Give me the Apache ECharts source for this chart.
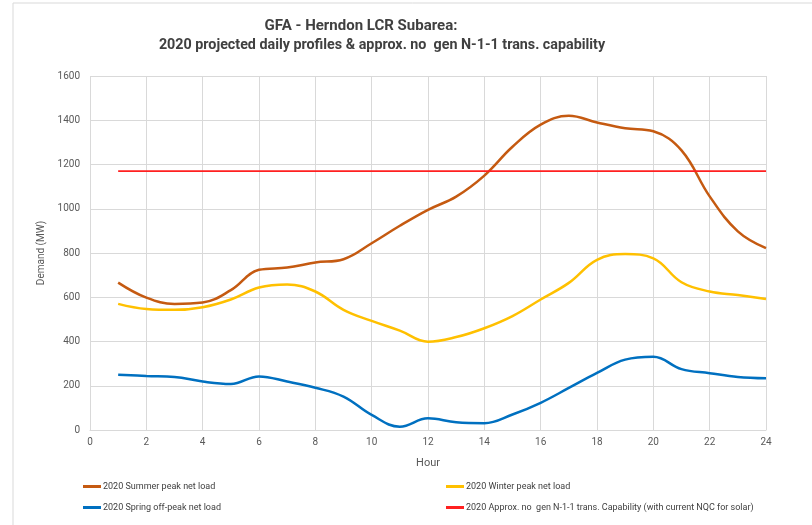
<!DOCTYPE html>
<html><head><meta charset="utf-8">
<script src="https://cdn.jsdelivr.net/npm/echarts@6/dist/echarts.min.js"></script>
<style>html,body{margin:0;padding:0;background:#fff}#c{width:812px;height:525px}</style>
</head><body><div id="c"></div>
<script>
const hours = [1,2,3,4,5,6,7,8,9,10,11,12,13,14,15,16,17,18,19,20,21,22,23,24];
const summer = [666,598,570,576,632,724,734,757,772,844,923,995,1055,1150,1280,1380,1420,1390,1364,1350,1264,1056,898,822];
const winter = [570,547,543,555,590,644,658,626,543,493,449,399,420,460,515,590,665,769,795,776,668,626,610,592];
const spring = [250,244,240,219,208,242,219,191,151,68,15,53,35,31,70,123,190,258,318,331,275,257,240,234];
const capability = [1170,1170,1170,1170,1170,1170,1170,1170,1170,1170,1170,1170,1170,1170,1170,1170,1170,1170,1170,1170,1170,1170,1170,1170];
const yTicks = [0,200,400,600,800,1000,1200,1400,1600];
const names = ['2020 Summer peak net load','2020 Winter peak net load','2020 Spring off-peak net load','2020 Approx. no  gen N-1-1 trans. Capability (with current NQC for solar)'];

const pair = arr => hours.map((h,i)=>[h,arr[i]]);
const font = "'Roboto',sans-serif";
const chart = echarts.init(document.getElementById('c'));
const legendBase = {orient:'horizontal', icon:'rect', itemWidth:18, itemHeight:3, itemGap:2,
  textStyle:{fontSize:9, color:'#404040', fontFamily:font, padding:[0,0,0,-3]}};
chart.setOption({
  animation:false,
  backgroundColor:'#fff',
  title:[
    {text:'GFA - Herndon LCR Subarea:', left:356, top:14, textAlign:'center',
     textStyle:{fontSize:15, fontWeight:'bold', color:'#404040', fontFamily:font}},
    {text:'2020 projected daily profiles & approx. no  gen N-1-1 trans. capability', left:377, top:33, textAlign:'center',
     textStyle:{fontSize:14.3, fontWeight:'bold', color:'#404040', fontFamily:font}}
  ],
  graphic:[
    {type:'line', shape:{x1:13,y1:3,x2:812,y2:3}, style:{stroke:'#d9d9d9', lineWidth:1}},
    {type:'line', shape:{x1:13,y1:3,x2:13,y2:525}, style:{stroke:'#d9d9d9', lineWidth:1}}
  ],
  legend:[
    Object.assign({}, legendBase, {data:[names[0]], left:78, top:477}),
    Object.assign({}, legendBase, {data:[names[1]], left:441, top:477}),
    Object.assign({}, legendBase, {data:[names[2]], left:78, top:498}),
    Object.assign({}, legendBase, {data:[names[3]], left:441, top:498})
  ],
  grid:{left:90, right:46, top:76, bottom:95, containLabel:false},
  xAxis:{type:'value', min:0, max:24, interval:2, name:'Hour', nameLocation:'middle', nameGap:28,
    nameTextStyle:{fontSize:11, color:'#595959', fontFamily:font},
    axisLine:{show:true, lineStyle:{color:'#d9d9d9'}}, axisTick:{show:false},
    axisLabel:{fontSize:10, color:'#595959', fontFamily:font, margin:7},
    splitLine:{show:true, lineStyle:{color:'#d9d9d9'}}},
  yAxis:{type:'value', min:0, max:1600, interval:200, name:'Demand (MW)', nameLocation:'middle', nameGap:36,
    nameTextStyle:{fontSize:10, color:'#595959', fontFamily:font},
    axisLine:{show:false}, axisTick:{show:false},
    axisLabel:{fontSize:10, color:'#595959', fontFamily:font, margin:10,
      formatter:v=>yTicks.includes(v)?String(v):''},
    splitLine:{show:true, lineStyle:{color:'#d9d9d9'}}},
  series:[
    {name:names[0], type:'line', data:pair(summer), smooth:0.4, showSymbol:false, lineStyle:{color:'#C55A11', width:2.5}, itemStyle:{color:'#C55A11'}},
    {name:names[1], type:'line', data:pair(winter), smooth:0.4, showSymbol:false, lineStyle:{color:'#FFC000', width:2.5}, itemStyle:{color:'#FFC000'}},
    {name:names[2], type:'line', data:pair(spring), smooth:0.4, showSymbol:false, lineStyle:{color:'#0070C0', width:2.5}, itemStyle:{color:'#0070C0'}},
    {name:names[3], type:'line', data:pair(capability), showSymbol:false, lineStyle:{color:'#FF2020', width:1.8}, itemStyle:{color:'#FF2020'}}
  ]
});
</script></body></html>
